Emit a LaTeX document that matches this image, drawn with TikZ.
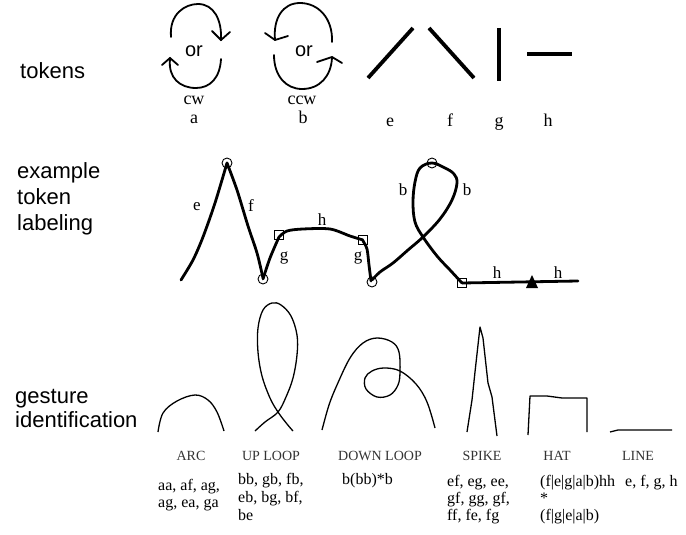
\documentclass[tikz,border=0pt]{standalone}
\usepackage{fontspec}
\setmainfont{Liberation Serif}
\newfontfamily\arialf{Liberation Sans}
\begin{document}
\begin{tikzpicture}[x=1pt,y=-1pt,
  sect/.style={font=\arialf\fontsize{22}{26}\selectfont, anchor=base west, inner sep=0},
  orlab/.style={font=\arialf\fontsize{20}{24}\selectfont, inner sep=0},
  toklab/.style={font=\fontsize{18}{20}\selectfont, anchor=base, inner sep=0},
  exlab/.style={font=\fontsize{17}{20}\selectfont, anchor=base, inner sep=0},
  caplab/.style={font=\fontsize{14}{16}\selectfont, anchor=base, inner sep=0, text=black!80},
  rowlab/.style={font=\fontsize{16}{18}\selectfont, anchor=base west, inner sep=0},
  arrowline/.style={line width=1.8pt, line cap=round},
  tokline/.style={line width=3.8pt},
  expath/.style={line width=2.8pt, line join=round, line cap=round},
  gest/.style={line width=1.3pt, line join=round},
  circmark/.style={circle, draw, line width=0.9pt, minimum size=10pt, inner sep=0},
  sqmark/.style={rectangle, draw, line width=0.9pt, minimum size=9pt, inner sep=0}
]
\useasboundingbox (0,0) rectangle (686,535);

% section labels
\node[sect] (tok) at (20,78) {tokens};
\node[sect] (ex1) at (17,178) {example};
\node[sect] (ex2) at (17,204) {token};
\node[sect] (ex3) at (17,230) {labeling};
\node[sect] (ge1) at (15,403) {gesture};
\node[sect] (ge2) at (15,427) {identification};

% token a (cw)
\draw[arrowline] (171,37) .. controls (169,14) and (185,4) .. (198,4) .. controls (214,4) and (222,20) .. (221,40);
\draw[arrowline] (212,31) -- (221,40) -- (230,32);
\draw[arrowline] (221,59) .. controls (220,78) and (210,88) .. (196,88) .. controls (180,88) and (168,78) .. (170,59);
\draw[arrowline] (162,65) -- (170,58) -- (178,65);
\node[orlab] (or1) at (194,51) {or};
\node[toklab] (cw) at (194,105) {cw};
\node[toklab] (la) at (194,124) {a};

% token b (ccw)
\draw[arrowline] (332,42) .. controls (333,18) and (318,3) .. (300,3) .. controls (283,3) and (273,18) .. (275,40);
\draw[arrowline] (265,33) -- (275,40) -- (288,36);
\draw[arrowline] (274,55) .. controls (274,76) and (286,89) .. (302,89) .. controls (320,89) and (331,76) .. (332,58);
\draw[arrowline] (317,62) -- (332,57) -- (342,63);
\node[orlab] (or2) at (304,51) {or};
\node[toklab] (ccw) at (302,105) {ccw};
\node[toklab] (lb) at (303,124) {b};

% tokens e f g h
\draw[tokline] (368,78) -- (413,28);
\draw[tokline] (429,28) -- (474,78);
\draw[tokline] (499,28) -- (499,81);
\draw[tokline] (527,54) -- (572,54);
\node[toklab] (le) at (390,126) {e};
\node[toklab] (lf) at (450,126) {f};
\node[toklab] (lg) at (499,126) {g};
\node[toklab] (lh) at (548,126) {h};

% example token labeling
\draw[expath] plot[smooth, tension=0.5] coordinates {(181,280) (193,260) (203,237) (215,203) (227,163)};
\draw[expath] plot[smooth, tension=0.5] coordinates {(227,163) (237,190) (248,226) (257,253) (263,278)};
\draw[expath] plot[smooth, tension=0.5] coordinates {(263,279) (270,258) (279,237)};
\draw[expath] plot[smooth, tension=0.5] coordinates {(279,237) (287,231) (303,229) (330,229) (350,236) (363,240)};
\draw[expath] plot[smooth, tension=0.5] coordinates {(363,241) (367,249) (369,265) (371,281)};
\draw[expath] plot[smooth, tension=0.6] coordinates {(372,280) (380,272) (393,263) (408,250) (423,237) (440,219) (452,200) (457,183) (454,174) (445,168) (432,163) (420,168) (415,182) (413,202) (415,222) (423,237) (437,256) (450,270) (462,283)};
\draw[expath] (462,283) -- (520,282) -- (578,281);
\fill (526,288) -- (538,288) -- (532,275) -- cycle;
\node[circmark] (c1) at (227,163) {};
\node[circmark] (c2) at (263,279) {};
\node[circmark] (c3) at (372,282) {};
\node[circmark] (c4) at (432,163) {};
\node[sqmark] (s1) at (279,235) {};
\node[sqmark] (s2) at (363,240) {};
\node[sqmark] (s3) at (462,283) {};
\node[exlab] (xe) at (197,210) {e};
\node[exlab] (xf) at (251,211) {f};
\node[exlab] (xh1) at (322,225) {h};
\node[exlab] (xg1) at (284,260) {g};
\node[exlab] (xg2) at (358,260) {g};
\node[exlab] (xb1) at (403,195) {b};
\node[exlab] (xb2) at (467,195) {b};
\node[exlab] (xh2) at (497,278) {h};
\node[exlab] (xh3) at (558,278) {h};

% gestures
\draw[gest] plot[smooth, tension=0.6] coordinates {(158,432) (163,413) (177,401) (195,395) (208,400) (217,412) (224,431)};
\draw[gest] plot[smooth, tension=0.6] coordinates {(255,431) (265,422) (278,412) (286,397) (293,378) (297,355) (297,335) (291,316) (281,305) (272,303) (263,310) (258,328) (258,352) (262,376) (270,398) (278,412) (287,424) (293,431)};
\draw[gest] plot[smooth, tension=0.6] coordinates {(322,430) (329,405) (337,385) (350,358) (363,343) (377,338) (392,342) (399,352) (400,372) (398,385) (390,395) (377,397) (366,389) (365,378) (372,371) (384,368) (400,371) (416,384) (427,402) (435,428)};
\draw[gest] (467,432) -- (472,400) -- (475,372) -- (480,327) -- (483,338) -- (488,383) -- (492,397) -- (497,436);
\draw[gest] (528,435) -- (530,396) -- (547,396) -- (562,398) -- (587,398) -- (587,432);
\draw[gest] (610,432) -- (618,430) -- (672,430);

\node[caplab] (g1) at (191,460) {ARC};
\node[caplab] (g2) at (271,460) {UP LOOP};
\node[caplab] (g3) at (380,460) {DOWN LOOP};
\node[caplab] (g4) at (482,460) {SPIKE};
\node[caplab] (g5) at (557,460) {HAT};
\node[caplab] (g6) at (638,460) {LINE};

\node[rowlab] (r1a) at (158,490) {aa, af, ag,};
\node[rowlab] (r1b) at (158,507) {ag, ea, ga};
\node[rowlab] (r2a) at (238,484) {bb, gb, fb,};
\node[rowlab] (r2b) at (238,502) {eb, bg, bf,};
\node[rowlab] (r2c) at (238,520) {be};
\node[rowlab] (r3a) at (342,484) {b(bb)*b};
\node[rowlab] (r4a) at (447,486) {ef, eg, ee,};
\node[rowlab] (r4b) at (447,503) {gf, gg, gf,};
\node[rowlab] (r4c) at (447,520) {ff, fe, fg};
\node[rowlab] (r5a) at (540,486) {(f|e|g|a|b)hh};
\node[rowlab] (r5b) at (540,503) {*};
\node[rowlab] (r5c) at (540,520) {(f|g|e|a|b)};
\node[rowlab] (r6a) at (625,486) {e, f, g, h};
\end{tikzpicture}
\end{document}
